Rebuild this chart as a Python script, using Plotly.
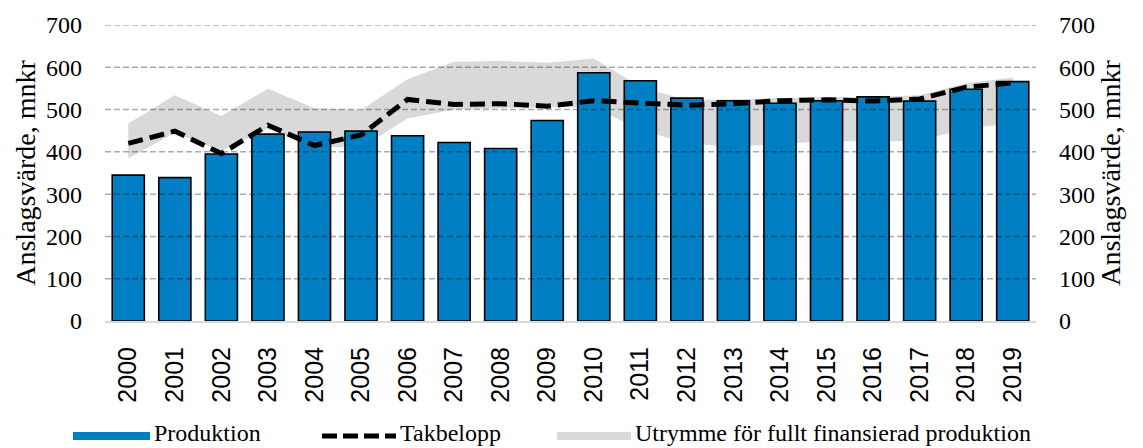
import plotly.graph_objects as go

years = list(range(2000, 2020))
produktion = [345, 339, 395, 442, 447, 449, 438, 422, 408, 474, 587, 568, 527, 521, 515, 521, 530, 520, 548, 566]
takbelopp = [420, 449, 396, 463, 415, 440, 524, 512, 514, 508, 521, 516, 510, 514, 521, 523, 520, 525, 553, 563]
band_upper = [467, 534, 485, 549, 503, 499, 572, 613, 615, 611, 621, 554, 522, 525, 528, 530, 530, 534, 562, 576]
band_lower = [385, 445, 402, 455, 412, 410, 479, 500, 503, 506, 505, 452, 420, 412, 418, 426, 424, 426, 455, 467]
y_ticks = [0, 100, 200, 300, 400, 500, 600, 700]
legend_names = ["Produktion", "Takbelopp", "Utrymme för fullt finansierad produktion"]
y_title = "Anslagsvärde, mnkr"

BLUE = "#007FC4"
GRAY = "#D9D9D9"
OFF = 8  # page body margin
W, H = 1143 - OFF, 448 - OFF
ML, MT = 105 - OFF, 25 - OFF
MR = W - (1036 - OFF)
MB = H - (321 - OFF)
PW, PH = W - ML - MR, H - MT - MB


def px(x):
    # window pixel x -> paper coordinate
    return (x - OFF - ML) / PW


def py(y):
    # window pixel y -> paper coordinate
    return (H - MB - (y - OFF)) / PH


fig = go.Figure()
fig.add_trace(go.Scatter(x=years, y=band_lower, mode="lines", line=dict(width=0),
                         showlegend=False, hoverinfo="skip", xaxis="x", yaxis="y"))
fig.add_trace(go.Scatter(x=years, y=band_upper, mode="lines", line=dict(width=0),
                         fill="tonexty", fillcolor=GRAY, name=legend_names[2],
                         showlegend=False, xaxis="x", yaxis="y"))
fig.add_trace(go.Bar(x=years, y=produktion, name=legend_names[0], width=0.69,
                     marker=dict(color=BLUE, line=dict(color="black", width=1.6)),
                     showlegend=False, xaxis="x", yaxis="y2"))
fig.add_trace(go.Scatter(x=years, y=takbelopp, mode="lines", name=legend_names[1],
                         line=dict(color="black", width=5, dash="15px,7px"),
                         showlegend=False, xaxis="x", yaxis="y2"))

shapes = []
for t in y_ticks[1:]:
    shapes.append(dict(type="line", xref="paper", yref="y", x0=0, x1=1, y0=t, y1=t,
                       line=dict(color="rgba(0,0,0,0.33)", width=1.5, dash="6px,3px"),
                       layer="above"))

# custom legend
ly = 436
shapes.append(dict(type="rect", xref="paper", yref="paper", x0=px(73), x1=px(150),
                   y0=py(ly - 4), y1=py(ly + 4), fillcolor=BLUE, line=dict(width=0)))
shapes.append(dict(type="line", xref="paper", yref="paper", x0=px(322), x1=px(396),
                   y0=py(ly), y1=py(ly), line=dict(color="black", width=5, dash="15px,6px")))
shapes.append(dict(type="rect", xref="paper", yref="paper", x0=px(557), x1=px(631),
                   y0=py(ly - 4), y1=py(ly + 4), fillcolor=GRAY, line=dict(width=0)))
annotations = []
for name, x0 in zip(legend_names, [152, 398, 633]):
    annotations.append(dict(text=name, xref="paper", yref="paper", x=px(x0), y=py(433),
                            xanchor="left", yanchor="middle", showarrow=False,
                            font=dict(family="Liberation Serif", size=24, color="black")))

serif = dict(family="Liberation Serif", size=24, color="black")
fig.update_layout(
    width=W, height=H,
    margin=dict(l=ML, r=MR, t=MT, b=MB, autoexpand=False),
    paper_bgcolor="white", plot_bgcolor="white",
    showlegend=False,
    shapes=shapes, annotations=annotations,
    xaxis=dict(range=[1999.5, 2019.5], tickvals=years, ticktext=[str(y) for y in years],
               tickangle=-90, tickfont=dict(family="Liberation Sans", size=25, color="black"),
               showgrid=False, showline=True, linecolor=GRAY, linewidth=2,
               ticks="", ticklabelstandoff=14, zeroline=False, layer="above traces",
               anchor="y"),
    yaxis=dict(range=[0, 700], tickvals=y_ticks, tickfont=serif, showgrid=False,
               zeroline=False, showline=False, ticks="", ticklabelstandoff=22,
               title=dict(text=y_title, font=dict(family="Liberation Serif", size=28, color="black"),
                          standoff=2)),
    yaxis2=dict(range=[0, 700], tickvals=y_ticks, tickfont=serif, showgrid=False,
                zeroline=False, showline=False, ticks="", ticklabelstandoff=22,
                overlaying="y", side="right", anchor="x",
                title=dict(text=y_title, font=dict(family="Liberation Serif", size=28, color="black"),
                           standoff=2)),
)

fig.write_html("out.html")
